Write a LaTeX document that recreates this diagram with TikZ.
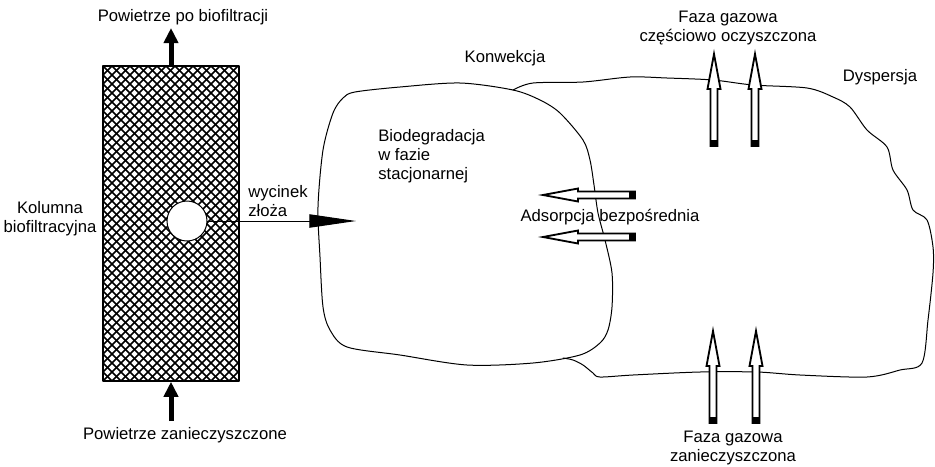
\documentclass[tikz,border=0pt]{standalone}
\usepackage{fontspec}
\setmainfont{Liberation Sans}
\usetikzlibrary{arrows.meta}

\begin{document}
\begin{tikzpicture}[line cap=round,line join=round,x=0.6pt,y=-0.6pt,
    every node/.style={font=\fontsize{10}{11.4}\selectfont,inner sep=0pt},
    outline/.style={line width=0.6pt},
    hatch/.style={line width=0.9pt},
    bigarrow/.style={line width=3pt,line cap=butt,-{Triangle[length=9pt,width=8.4pt]}},
    cutarrow/.style={line width=0.6pt,-{Triangle[length=28pt,width=8pt]}},
    hollowarrow/.pic={
      \draw[line width=1.1pt,fill=white,line join=miter] (0,-3.5) -- (57,-3.5) -- (57,-6.5) -- (92,0) -- (57,6.5) -- (57,3.5) -- (0,3.5) -- cycle;
      \fill (0,-4) rectangle (6,4);
    }]
    \useasboundingbox (0,0) rectangle (935,466);
    % kolumna z wypelnieniem
    \node[draw,line width=0.9pt,minimum width=81.6pt,minimum height=189pt,
      path picture={\foreach \c in {-333,-324,...,144} {
        \draw[hatch] ([xshift=\c*0.6pt]path picture bounding box.south west) -- ++(340,-340);
        \draw[hatch] ([xshift=\c*0.6pt]path picture bounding box.north west) -- ++(340,340);
      }}] (column) at (171,223.5) {};
    \node[draw,circle,fill=white,line width=0.6pt,minimum size=24pt] (probe) at (187,221) {};
    \coordinate (cuttip) at (356,221);
    \coordinate (airout) at (171,28);
    \coordinate (airin) at (171,421);
    \draw[bigarrow] (column.north) -- (airout);
    \draw[bigarrow] (airin) -- (column.south);
    % obszary
    \draw[outline] plot[smooth cycle,tension=0.5] coordinates {(355,92) (400,87) (460,83) (513,90) (540,100) (560,113) (583,140) (590,160) (594,185) (598,213) (605,240) (612,273) (612,307) (608,330) (600,343) (580,355) (533,363) (467,365) (400,355) (347,347) (330,330) (323,307) (320,257) (318,207) (323,150) (333,113) (343,98)};
    \draw[outline] plot[smooth,tension=0.5] coordinates {(513,90) (533,83) (583,82) (630,77) (667,78) (713,80) (753,85) (807,88) (833,97) (850,107) (867,130) (887,147) (893,170) (907,190) (913,210) (927,220) (933,247) (933,273) (928,320) (922,363) (900,370) (867,377) (800,375) (757,372) (700,372) (633,375) (600,377) (593,373) (583,365) (573,360) (563,358)};
    \draw[cutarrow] (probe.east) -- (cuttip);
    % strzalki
    \pic[rotate=90] at (714,146) {hollowarrow};
    \pic[rotate=90] at (755,146) {hollowarrow};
    \pic[rotate=90] at (713,423) {hollowarrow};
    \pic[rotate=90] at (756,423) {hollowarrow};
    \pic[rotate=180] at (635,195) {hollowarrow};
    \pic[rotate=180] at (635,237) {hollowarrow};
    % opisy
    \node (outlabel) at (183,17) {Powietrze po biofiltracji};
    \node (inlabel) at (185,435) {Powietrze zanieczyszczone};
    \node[align=center] (columnlabel) at (50,219) {Kolumna\\biofiltracyjna};
    \node[align=left,anchor=west] (cutlabel) at (248,201) {wycinek\\złoża};
    \node (convlabel) at (505,58) {Konwekcja};
    \node[align=left,anchor=west] (biolabel) at (378,156) {Biodegradacja\\w fazie\\stacjonarnej};
    \node (adslabel) at (610,217) {Adsorpcja bezpośrednia};
    \node[align=center] (outgas) at (728,28) {Faza gazowa\\częściowo oczyszczona};
    \node (displabel) at (880,77) {Dyspersja};
    \node[align=center] (ingas) at (733,448) {Faza gazowa\\zanieczyszczona};
\end{tikzpicture}
\end{document}
